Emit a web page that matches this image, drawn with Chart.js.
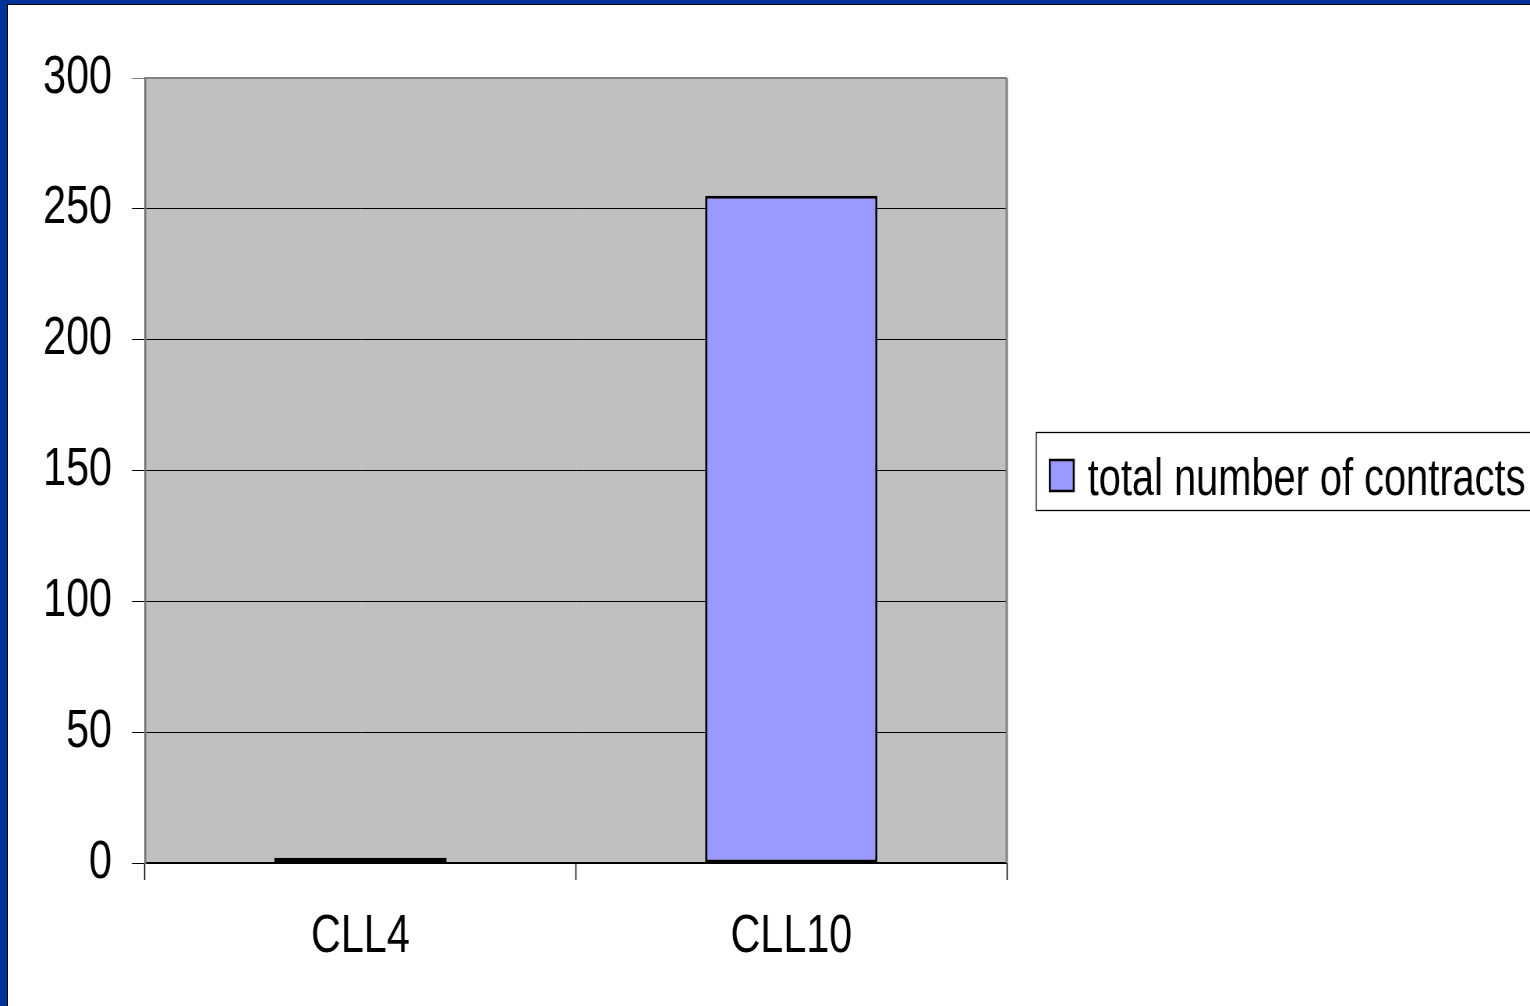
<!DOCTYPE html>
<html>
<head>
<meta charset="utf-8">
<script src="https://cdn.jsdelivr.net/npm/chart.js@4/dist/chart.umd.min.js"></script>
<style>
  html, body { margin: 0; padding: 0; background: #fff; overflow: hidden; }
  #wrap { position: relative; width: 1530px; height: 1006px; }
  #grafico { position: absolute; left: 0; top: 0; }
  .borda { position: absolute; background: #003399; }
  .linha { position: absolute; background: #000; }
</style>
</head>
<body>
<div id="wrap">
  <!-- canvas mais largo e comprimido na horizontal: letra estreita tipo Arial Narrow -->
  <canvas id="grafico" width="1962" height="1006" style="width:1530px;height:1006px"></canvas>
  <div class="borda" style="left:0;top:0;width:7px;height:1006px"></div>
  <div class="borda" style="left:0;top:0;width:1530px;height:4px"></div>
  <div class="linha" style="left:7px;top:4px;width:1px;height:1002px"></div>
  <div class="linha" style="left:7px;top:4px;width:1523px;height:1px"></div>
</div>
<script>
const categorias = ["CLL4", "CLL10"];
const contratos = [2, 255];
const marcasY = [0, 50, 100, 150, 200, 250, 300];
const rotuloSerie = "total number of contracts";

const fonte = "'Liberation Sans', Arial, sans-serif";
const ESCALA = 0.78;
const ix = (x) => x / ESCALA; // px da tela -> px do canvas

// fundo cinza e moldura da area do grafico
const fundoArea = {
  id: "fundoArea",
  beforeDraw(chart) {
    const { ctx, chartArea: a } = chart;
    ctx.save();
    ctx.fillStyle = "#C0C0C0";
    ctx.fillRect(a.left, a.top, a.right - a.left, a.bottom - a.top);
    ctx.restore();
  },
  afterDatasetsDraw(chart) {
    const { ctx, chartArea: a } = chart;
    ctx.save();
    ctx.strokeStyle = "#808080";
    ctx.lineWidth = 2;
    ctx.beginPath();
    ctx.moveTo(a.left, a.top);
    ctx.lineTo(a.right, a.top);
    ctx.stroke();
    ctx.lineWidth = 3;
    ctx.beginPath();
    ctx.moveTo(a.right, a.top);
    ctx.lineTo(a.right, a.bottom);
    ctx.stroke();
    ctx.restore();
  },
};

// legenda com caixa, desenhada a partir do dataset
const legendaCaixa = {
  id: "legendaCaixa",
  afterDraw(chart) {
    const { ctx } = chart;
    const ds = chart.data.datasets[0];
    ctx.save();
    ctx.fillStyle = "#fff";
    ctx.fillRect(ix(1036), 432, ix(560), 78);
    ctx.strokeStyle = "#000";
    ctx.lineWidth = 1.3;
    ctx.strokeRect(ix(1036.5), 432.5, ix(560), 78);
    ctx.fillStyle = ds.backgroundColor;
    ctx.fillRect(ix(1050), 460, ix(24), 31);
    ctx.lineWidth = 2.5;
    ctx.strokeRect(ix(1050), 460, ix(24), 31);
    ctx.fillStyle = "#000";
    ctx.font = "51px " + fonte;
    ctx.textBaseline = "alphabetic";
    ctx.fillText(ds.label, ix(1088), 495);
    ctx.restore();
  },
};

function montarGrafico() {
  const ctx = document.getElementById("grafico").getContext("2d");

  new Chart(ctx, {
    type: "bar",
    data: {
      labels: categorias,
      datasets: [
        {
          label: rotuloSerie,
          data: contratos,
          backgroundColor: "#9999FF",
          borderColor: "#000",
          borderWidth: 3,
          borderSkipped: false,
          barPercentage: 0.4,
          categoryPercentage: 1,
        },
      ],
    },
    options: {
      responsive: false,
      animation: false,
      layout: { padding: { top: 78, right: 1962 - ix(1007), left: 0, bottom: 0 } },
      plugins: {
        legend: { display: false },
        tooltip: { enabled: false },
      },
      scales: {
        x: {
          afterFit(scale) {
            scale.height = 143;
          },
          grid: {
            drawOnChartArea: false,
            drawTicks: true,
            tickLength: 17,
            tickColor: "#000",
            tickWidth: 1.5,
          },
          border: { display: true, color: "#000", width: 2 },
          ticks: {
            color: "#000",
            padding: 26,
            font: { family: fonte, size: 53 },
          },
        },
        y: {
          min: 0,
          max: 300,
          afterFit(scale) {
            scale.width = ix(145);
          },
          afterBuildTicks(scale) {
            scale.ticks = marcasY.map((v) => ({ value: v }));
          },
          grid: {
            color: "#000",
            lineWidth: 1,
            tickLength: ix(13),
            tickColor: (c) => (c.tick && c.tick.value === 300 ? "#808080" : "#000"),
          },
          border: { display: true, color: "#707070", width: 2.5 },
          ticks: {
            color: "#000",
            padding: ix(20),
            font: { family: fonte, size: 53 },
          },
        },
      },
    },
    plugins: [fundoArea, legendaCaixa],
  });
}

document.addEventListener("DOMContentLoaded", montarGrafico);
</script>
</body>
</html>
